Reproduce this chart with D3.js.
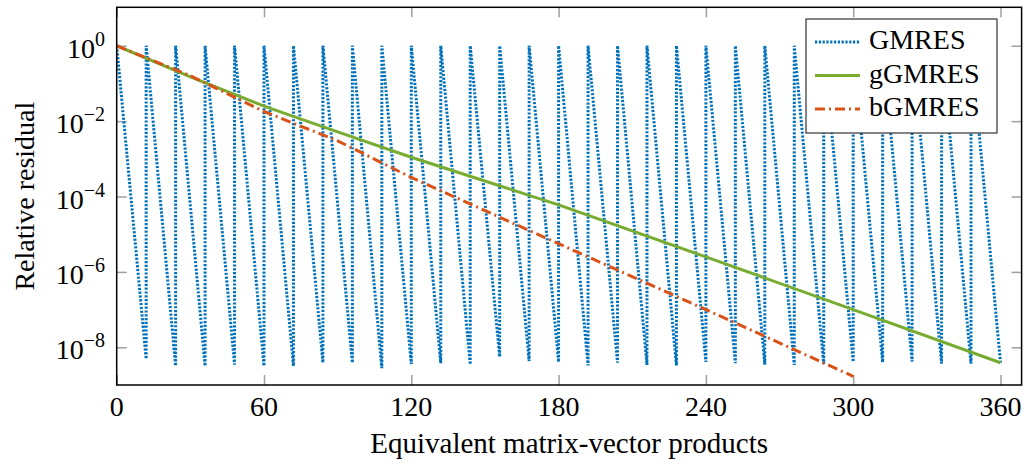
<!DOCTYPE html>
<head>
<meta charset="utf-8">
<style>
body { margin: 0; background: #fff; }
svg { display: block; }
text { font-family: "Liberation Serif", "Times New Roman", serif; fill: #000; }
.tick line { stroke: #a0a0a0; stroke-width: 1.5px; }
</style>
</head>
<body>
<svg width="1027" height="466"></svg>
<script src="https://d3js.org/d3.v7.min.js"></script>
<script>
// GMRES restarts every 12 products; residual minimum reached at the end of each cycle
var gmresCycleStart = [0, 12, 24, 36, 48, 60, 72, 84, 96, 108, 120, 132, 144, 156, 168,
                       180, 192, 204, 216, 228, 240, 252, 264, 276, 288, 300, 312, 324, 336, 348];
var gmresCycleEnd   = [12, 24, 36, 48, 60, 72, 84, 96, 108, 120, 132, 144, 156, 168, 180,
                       192, 204, 216, 228, 240, 252, 264, 276, 288, 300, 312, 324, 336, 348, 360];
var gmresCycleMin   = [4.9e-9, 3.2e-9, 3.2e-9, 3.5e-9, 3.2e-9, 3.2e-9, 3.9e-9, 3.9e-9, 2.8e-9, 3.6e-9,
                       3.8e-9, 3.5e-9, 5.6e-9, 4.3e-9, 4.1e-9, 3.3e-9, 3.9e-9, 3.4e-9, 3.3e-9, 4.1e-9,
                       3.8e-9, 3.5e-9, 3.4e-9, 3.6e-9, 4.1e-9, 4.0e-9, 4.2e-9, 3.7e-9, 3.7e-9, 3.9e-9];

var ggmresX = [0, 30, 60, 90, 120, 180, 240, 300, 360];
var ggmresY = [1, 0.15, 0.025, 5.2e-3, 1.1e-3, 6.0e-5, 2.5e-6, 1.0e-7, 3.9e-9];

var bgmresX = [0, 30, 60, 90, 120, 180, 240, 300];
var bgmresY = [1, 0.16, 0.018, 3.0e-3, 3.2e-4, 5.6e-6, 1.0e-7, 1.7e-9];

var xTicks = [0, 60, 120, 180, 240, 300, 360];
var yTicks = [0, -2, -4, -6, -8];   // exponents of 10

var seriesNames = ["GMRES", "gGMRES", "bGMRES"];
var colors = ["#0072bd", "#77ac30", "#d95319"];
var dashes = ["2.2 1.6", null, "10 4 2 4"];

var svg = d3.select("svg"),
    pL = 116.7, pR = 1021.6, pT = 7.3, pB = 385;

var x = d3.scaleLinear().domain([0, 368.6]).range([pL, pR]);
var y = d3.scaleLog().domain([1e-9, Math.pow(10, 1.02)]).range([pB, pT]);

var line = d3.line()
    .x(function(d) { return x(d[0]); })
    .y(function(d) { return y(d[1]); });

// GMRES points: drop over each cycle, jump back to 1 at restart
var gmresPts = [];
gmresCycleStart.forEach(function(s, i) {
  gmresPts.push([s, 1]);
  gmresPts.push([gmresCycleEnd[i], gmresCycleMin[i]]);
});
var ggPts = ggmresX.map(function(v, i) { return [v, ggmresY[i]]; });
var bgPts = bgmresX.map(function(v, i) { return [v, bgmresY[i]]; });

svg.append("clipPath").attr("id", "clip")
  .append("rect").attr("x", pL).attr("y", pT).attr("width", pR - pL).attr("height", pB - pT);

// ticks (inside, on all four sides)
var yTickVals = yTicks.map(function(e) { return Math.pow(10, e); });
var gx = svg.append("g").attr("transform", "translate(0," + pB + ")")
  .call(d3.axisBottom(x).tickValues(xTicks).tickSize(-10).tickFormat(""));
var gxt = svg.append("g").attr("transform", "translate(0," + pT + ")")
  .call(d3.axisTop(x).tickValues(xTicks).tickSize(-10).tickFormat(""));
var gy = svg.append("g").attr("transform", "translate(" + pL + ",0)")
  .call(d3.axisLeft(y).tickValues(yTickVals).tickSize(-10).tickFormat(""));
var gyr = svg.append("g").attr("transform", "translate(" + pR + ",0)")
  .call(d3.axisRight(y).tickValues(yTickVals).tickSize(-10).tickFormat(""));
[gx, gxt, gy, gyr].forEach(function(g) { g.select(".domain").remove(); });

var plot = svg.append("g").attr("clip-path", "url(#clip)");
[gmresPts, ggPts, bgPts].forEach(function(pts, i) {
  plot.append("path")
    .datum(pts)
    .attr("fill", "none")
    .attr("stroke", colors[i])
    .attr("stroke-width", 3)
    .attr("stroke-dasharray", dashes[i])
    .attr("d", line);
});

// frame
svg.append("rect")
  .attr("x", pL).attr("y", pT)
  .attr("width", pR - pL).attr("height", pB - pT)
  .attr("fill", "none").attr("stroke", "#000").attr("stroke-width", 1.5);

// tick labels
svg.selectAll(".xlab").data(xTicks).enter().append("text")
  .attr("x", function(d) { return x(d); })
  .attr("y", 416)
  .attr("text-anchor", "middle")
  .style("font-size", "28px")
  .text(function(d) { return d; });

var yl = svg.selectAll(".ylab").data(yTicks).enter().append("text")
  .attr("x", 105)
  .attr("y", function(d) { return y(Math.pow(10, d)) + 12; })
  .attr("text-anchor", "end")
  .style("font-size", "28px");
yl.append("tspan").text("10");
yl.append("tspan")
  .attr("dy", -12)
  .style("font-size", "20px")
  .text(function(d) { return d === 0 ? "0" : "\u2212" + (-d); });

// axis titles
svg.append("text")
  .attr("x", (pL + pR) / 2).attr("y", 453)
  .attr("text-anchor", "middle")
  .style("font-size", "29px")
  .text("Equivalent matrix-vector products");

svg.append("text")
  .attr("transform", "translate(34," + (pT + pB) / 2 + ") rotate(-90)")
  .attr("text-anchor", "middle")
  .style("font-size", "28px")
  .text("Relative residual");

// legend
var legend = svg.append("g");
legend.append("rect")
  .attr("x", 806).attr("y", 19).attr("width", 191).attr("height", 114)
  .attr("fill", "#fff").attr("stroke", "#333").attr("stroke-width", 1.2);
seriesNames.forEach(function(name, i) {
  var ry = 42 + i * 33.5;
  legend.append("line")
    .attr("x1", 815).attr("x2", 860).attr("y1", ry).attr("y2", ry)
    .attr("stroke", colors[i]).attr("stroke-width", 3)
    .attr("stroke-dasharray", dashes[i]);
  legend.append("text")
    .attr("x", 869).attr("y", ry + 7)
    .style("font-size", "28px")
    .text(name);
});
</script>
</body>
